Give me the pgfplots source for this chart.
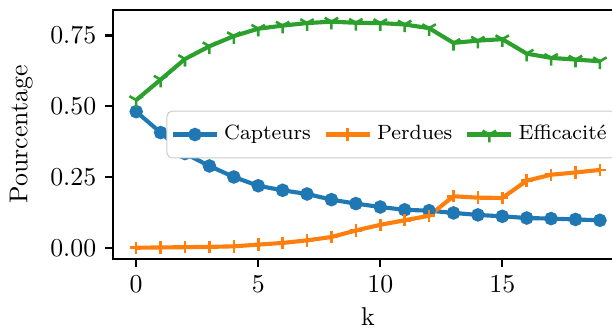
\documentclass[border=0pt]{standalone}
\usepackage{pgfplots}
\pgfplotsset{compat=1.18}
\definecolor{tabblue}{HTML}{1F77B4}
\definecolor{taborange}{HTML}{FF7F0E}
\definecolor{tabgreen}{HTML}{2CA02C}
\begin{document}
\begin{tikzpicture}
\begin{axis}[
  name=ax,
  scale only axis,
  width=197.7pt, height=96.5pt,
  xmin=-0.95, xmax=19.95,
  ymin=-0.04, ymax=0.84,
  xtick={0,5,10,15},
  ytick={0,0.25,0.5,0.75},
  yticklabel style={/pgf/number format/.cd, fixed, fixed zerofill, precision=2},
  tick align=outside,
  tick pos=left,
  major tick length=3pt,
  every tick/.style={black, line width=0.8pt},
  axis line style={line width=0.8pt},
  xlabel={k},
  ylabel={Pourcentage},
  xlabel style={yshift=1pt},
  legend columns=3,
  legend style={at={(rel axis cs:1,0.5)}, anchor=east, xshift=-2.7pt,
    draw=black!20, fill=white, rounded corners=2pt, font=\footnotesize,
    /tikz/every even column/.append style={column sep=3pt},
    inner xsep=1.5pt, inner ysep=3.5pt},
  legend cell align=left,
]
\addplot[tabblue, line width=1.6pt, mark=*, mark size=1.8pt, mark options={solid}] coordinates {
(0,0.481)(1,0.407)(2,0.333)(3,0.289)(4,0.250)(5,0.219)(6,0.203)(7,0.190)(8,0.170)(9,0.156)
(10,0.144)(11,0.134)(12,0.131)(13,0.123)(14,0.116)(15,0.111)(16,0.105)(17,0.103)(18,0.100)(19,0.097)};
\addlegendentry{Capteurs}
\addplot[taborange, line width=1.6pt, mark=+, mark size=2.4pt, mark options={solid, line width=1pt}] coordinates {
(0,0.000)(1,0.001)(2,0.002)(3,0.003)(4,0.005)(5,0.011)(6,0.017)(7,0.026)(8,0.038)(9,0.061)
(10,0.081)(11,0.097)(12,0.113)(13,0.182)(14,0.177)(15,0.176)(16,0.237)(17,0.258)(18,0.266)(19,0.275)};
\addlegendentry{Perdues}
\addplot[tabgreen, line width=1.6pt, mark=Mercedes star flipped, mark size=3pt, mark options={solid, line width=1pt}] coordinates {
(0,0.522)(1,0.594)(2,0.667)(3,0.712)(4,0.748)(5,0.774)(6,0.785)(7,0.794)(8,0.799)(9,0.795)
(10,0.794)(11,0.789)(12,0.776)(13,0.724)(14,0.732)(15,0.737)(16,0.686)(17,0.671)(18,0.665)(19,0.659)};
\addlegendentry{Efficacité}
\end{axis}
\pgfresetboundingbox
\path[use as bounding box] ([xshift=-43.8pt,yshift=-29.1pt]ax.south west) rectangle ([xshift=193.4pt,yshift=3.9pt]ax.north west);
\end{tikzpicture}
\end{document}
